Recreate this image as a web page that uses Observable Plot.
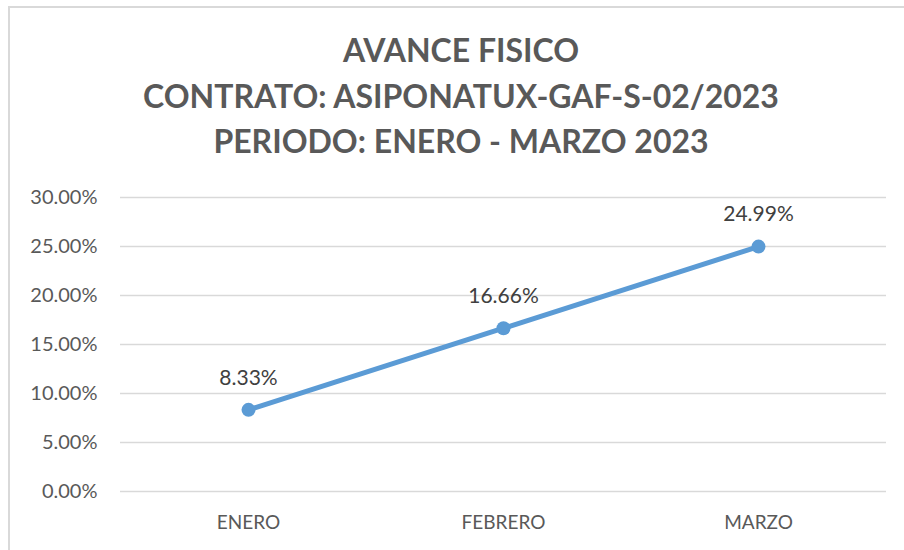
<!DOCTYPE html>
<html>
<head>
<meta charset="utf-8">
<script src="https://cdn.jsdelivr.net/npm/d3@7"></script>
<script src="https://cdn.jsdelivr.net/npm/@observablehq/plot@0.6"></script>
<style>
  html, body { margin: 0; padding: 0; background: #fff; }
  body { width: 904px; height: 550px; position: relative; overflow: hidden; font-family: Lato, "Open Sans", sans-serif; }
  #frame { position: absolute; left: 8px; top: 6px; width: 1000px; height: 1000px; border-top: 2px solid #d9d9d9; border-left: 2px solid #d9d9d9; }
  #title { position: absolute; left: 0; top: 27px; width: 922px; text-align: center; color: #595959; font-weight: bold; font-size: 32px; line-height: 45.5px; }
  #chart { position: absolute; left: 0; top: 180px; }
</style>
</head>
<body>
<div id="frame"></div>
<div id="title">AVANCE FISICO<br>CONTRATO: ASIPONATUX-GAF-S-02/2023<br>PERIODO: ENERO - MARZO 2023</div>
<div id="chart"></div>
<script>
const months = ["ENERO", "FEBRERO", "MARZO"];
const avance = [0.0833, 0.1666, 0.2499];
const yTicks = [0, 0.05, 0.10, 0.15, 0.20, 0.25, 0.30];

const data = months.map((m, i) => ({mes: m, valor: avance[i]}));
const pct = d3.format(".2%");

const chart = Plot.plot({
  width: 904,
  height: 370,
  marginTop: 17,
  marginBottom: 59,
  marginLeft: 120,
  marginRight: 18,
  style: {fontFamily: "Lato, 'Open Sans', sans-serif", fontSize: "17px", color: "#595959", background: "transparent"},
  x: {type: "point", domain: months, padding: 0.5, label: null},
  y: {domain: [0, 0.30], label: null},
  marks: [
    Plot.ruleY(yTicks, {stroke: "#d9d9d9", strokeWidth: 1.5}),
    Plot.axisY({ticks: yTicks, tickFormat: pct, tickSize: 0, tickPadding: 23, fontSize: 20, fill: "#595959", label: null}),
    Plot.axisX({tickSize: 0, tickPadding: 24, fontSize: 19, fill: "#595959", label: null}),
    Plot.line(data, {x: "mes", y: "valor", stroke: "#5B9BD5", strokeWidth: 5}),
    Plot.dot(data, {x: "mes", y: "valor", r: 7, fill: "#5B9BD5", stroke: "none"}),
    Plot.text(data, {x: "mes", y: "valor", text: d => pct(d.valor), dy: -32, fontSize: 21, fill: "#404040"})
  ]
});
document.getElementById("chart").appendChild(chart);
</script>
</body>
</html>
